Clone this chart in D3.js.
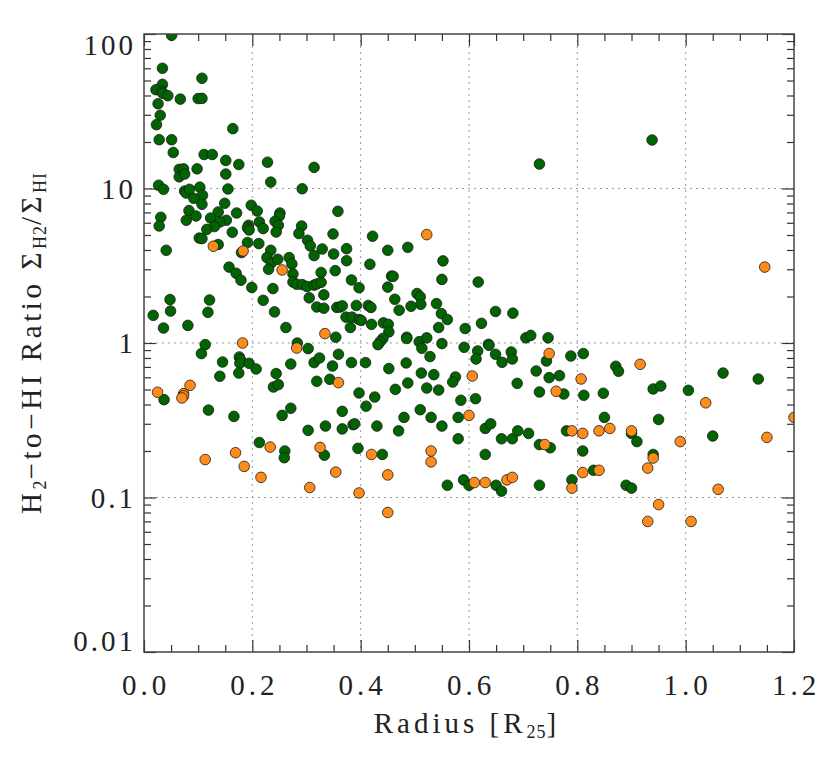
<!DOCTYPE html>
<html>
<head>
<meta charset="utf-8">
<script src="https://cdn.jsdelivr.net/npm/d3@7"></script>
<style>
  body { margin: 0; background: #fff; }
  text { font-family: 'Liberation Serif', serif; fill: #222; }
</style>
</head>
<body>
<div id="canvas"></div>
<script>
// green galaxies: radius [R25] and H2/HI ratio
const greenR = [0.051,0.034,0.107,0.034,0.022,0.033,0.035,0.044,0.067,0.100,0.107,0.026,0.030,0.023,0.164,0.028,0.051,0.054,0.111,0.126,
  0.151,0.175,0.228,0.314,0.065,0.073,0.098,0.151,0.065,0.075,0.234,0.027,0.036,0.103,0.155,0.292,0.075,0.078,0.084,0.108,
  0.092,0.149,0.107,0.198,0.209,0.083,0.137,0.171,0.358,0.251,0.250,0.031,0.096,0.123,0.078,0.152,0.140,0.242,0.213,0.028,
  0.193,0.291,0.248,0.130,0.116,0.163,0.191,0.194,0.220,0.244,0.286,0.302,0.307,0.314,0.349,0.329,0.350,0.374,0.374,0.102,
  0.107,0.137,0.041,0.180,0.191,0.212,0.234,0.227,0.235,0.230,0.247,0.268,0.273,0.157,0.170,0.179,0.199,0.238,0.275,0.275,
  0.282,0.292,0.301,0.314,0.319,0.327,0.327,0.353,0.383,0.397,0.305,0.332,0.319,0.332,0.356,0.362,0.366,0.392,0.373,0.384,
  0.381,0.397,0.220,0.241,0.262,0.048,0.049,0.017,0.036,0.121,0.118,0.081,0.354,0.113,0.106,0.283,0.303,0.176,0.178,0.177,
  0.145,0.194,0.207,0.175,0.140,0.244,0.239,0.248,0.271,0.314,0.324,0.359,0.348,0.383,0.319,0.343,0.397,0.037,0.119,0.166,
  0.255,0.271,0.366,0.303,0.335,0.366,0.386,0.389,0.395,0.213,0.260,0.259,0.333,0.730,0.938,0.422,0.450,0.487,0.417,0.552,
  0.550,0.617,0.450,0.457,0.460,0.463,0.504,0.510,0.511,0.493,0.471,0.540,0.549,0.560,0.414,0.419,0.401,0.420,0.442,0.451,
  0.452,0.441,0.436,0.432,0.485,0.485,0.508,0.513,0.522,0.544,0.550,0.528,0.593,0.623,0.649,0.681,0.591,0.616,0.613,0.636,
  0.637,0.649,0.661,0.678,0.680,0.705,0.714,0.746,0.743,0.788,0.811,0.409,0.452,0.484,0.512,0.535,0.575,0.570,0.426,0.464,
  0.487,0.522,0.544,0.689,0.724,0.748,0.767,0.730,0.775,0.812,0.585,0.612,0.871,0.876,0.848,0.940,0.954,1.005,1.069,1.134,
  0.41,0.43,0.44,0.47,0.48,0.51,0.53,0.55,0.56,0.58,0.58,0.59,0.60,0.63,0.63,0.64,0.65,0.66,0.66,0.68,
  0.69,0.71,0.73,0.73,0.75,0.78,0.79,0.81,0.83,0.85,0.89,0.90,0.91,0.90,0.94,0.95,1.05];
const greenRatio = [98,60,51.7,47.2,43.6,42.2,41.3,39.9,37.9,38.2,38.3,35.4,29.8,25.9,24.4,20.7,20.7,17.1,16.6,16.6,
  15.2,14.3,14.8,13.7,13.3,13.4,13.4,12.4,11.9,12.4,11.0,10.5,9.88,10.2,9.93,9.96,9.63,9.35,9.88,9.03,
  8.64,8.02,7.90,7.79,7.15,7.19,7.05,6.94,7.12,6.94,6.64,6.51,6.64,6.44,6.23,6.23,6.07,6.13,6.07,5.72,
  5.78,5.72,5.78,5.67,5.44,5.21,5.58,5.39,5.50,5.23,5.11,4.62,4.25,3.68,5.08,4.06,3.77,4.08,3.41,4.78,
  4.74,4.34,3.98,3.85,4.47,4.40,3.98,3.57,3.30,3.00,3.48,3.57,3.25,3.10,2.83,2.55,2.29,2.25,2.80,2.48,
  2.40,2.39,2.32,2.37,2.41,2.47,2.86,2.94,2.56,2.28,1.96,2.05,1.71,1.68,1.70,1.71,1.74,1.75,1.47,1.47,
  1.26,1.42,1.89,1.59,1.26,1.91,1.61,1.51,1.25,1.90,1.58,1.30,1.09,0.976,0.854,1.00,0.92,0.812,0.781,0.739,
  0.753,0.739,0.679,0.639,0.609,0.634,0.519,0.538,0.731,0.747,0.80,0.845,0.71,0.747,0.565,0.582,0.475,0.430,0.368,0.335,
  0.340,0.378,0.361,0.272,0.290,0.278,0.296,0.30,0.208,0.227,0.200,0.181,0.188,14.4,20.6,4.91,3.98,4.16,3.23,3.40,
  2.58,2.48,2.30,2.71,2.70,1.92,2.09,1.99,1.78,1.73,1.63,1.80,1.55,1.42,1.75,1.70,1.40,1.32,1.35,1.32,
  1.18,1.07,1.02,0.976,1.09,1.07,1.02,0.924,1.08,1.26,0.991,0.817,1.24,1.34,1.60,1.56,0.938,0.888,0.788,0.981,
  0.966,0.845,0.750,0.875,0.788,1.08,1.12,1.08,0.765,0.824,0.854,0.747,0.683,0.743,0.639,0.624,0.603,0.559,0.447,0.501,
  0.551,0.511,0.496,0.548,0.659,0.597,0.615,0.482,0.468,0.459,0.426,0.436,0.707,0.656,0.473,0.504,0.527,0.494,0.639,0.585,
  0.39,0.29,0.19,0.27,0.33,0.37,0.33,0.29,0.12,0.24,0.33,0.13,0.12,0.28,0.19,0.30,0.12,0.24,0.11,0.24,
  0.27,0.26,0.22,0.12,0.21,0.27,0.13,0.20,0.15,0.33,0.12,0.26,0.23,0.115,0.19,0.32,0.25];

// orange galaxies
const orangeR = [0.128,0.183,0.255,0.522,0.334,0.182,0.282,0.359,0.025,0.073,0.073,0.070,0.085,0.113,0.169,0.185,0.216,0.233,0.325,0.306,
  0.354,0.397,0.748,0.606,0.807,0.761,1.146,0.916,1.037,0.42,0.45,0.45,0.53,0.53,0.60,0.61,0.63,0.67,0.68,0.74,
  0.79,0.79,0.81,0.81,0.84,0.84,0.86,0.90,0.93,0.94,0.93,0.95,0.99,1.01,1.06,1.15,1.2];
const orangeRatio = [4.23,3.94,2.97,5.03,1.15,1.00,0.928,0.554,0.480,0.470,0.455,0.441,0.532,0.176,0.195,0.159,0.135,0.212,0.211,0.116,
  0.146,0.107,0.854,0.611,0.585,0.487,3.10,0.728,0.41,0.19,0.14,0.08,0.20,0.17,0.34,0.125,0.125,0.13,0.135,0.22,
  0.27,0.115,0.26,0.145,0.27,0.15,0.28,0.27,0.155,0.18,0.07,0.09,0.23,0.07,0.113,0.245,0.33];

const xTicks = [0.0, 0.2, 0.4, 0.6, 0.8, 1.0, 1.2];
const xTickLabels = ['0.0', '0.2', '0.4', '0.6', '0.8', '1.0', '1.2'];
const yTicks = [0.01, 0.1, 1, 10, 100];
const yTickLabels = ['0.01', '0.1', '1', '10', '100'];

const w = 830;
const h = 761;
const pLeft = 144, pRight = 794, pTop = 34, pBottom = 652;

const xScale = d3.scaleLinear().domain([0, 1.2]).range([pLeft, pRight]);
const yScale = d3.scaleLog().domain([0.01, 100]).range([pBottom, pTop]);

const svg = d3.select('#canvas')
  .append('svg')
  .attr('width', w)
  .attr('height', h);

svg.append('defs').append('clipPath')
  .attr('id', 'plotclip')
  .append('rect')
  .attr('x', pLeft).attr('y', pTop)
  .attr('width', pRight - pLeft).attr('height', pBottom - pTop);

// dotted grid
const grid = svg.append('g');
grid.selectAll('line.gx')
  .data(xTicks.slice(1, -1))
  .enter().append('line')
  .attr('x1', d => xScale(d)).attr('x2', d => xScale(d))
  .attr('y1', pTop).attr('y2', pBottom)
  .attr('stroke', '#999').attr('stroke-width', 1)
  .attr('stroke-dasharray', '2,4');
grid.selectAll('line.gy')
  .data(yTicks.slice(1, -1))
  .enter().append('line')
  .attr('x1', pLeft).attr('x2', pRight)
  .attr('y1', d => yScale(d)).attr('y2', d => yScale(d))
  .attr('stroke', '#999').attr('stroke-width', 1)
  .attr('stroke-dasharray', '2,4');

// minor tick values
const xMinor = d3.range(0, 1.2001, 0.05).filter(v => Math.abs(v / 0.2 - Math.round(v / 0.2)) > 0.01);
const yMinor = [];
[0.01, 0.1, 1, 10].forEach(dec => { for (let k = 2; k <= 9; k++) yMinor.push(dec * k); });

// axes with inward ticks, labels drawn separately
function tickAxis(axisFn, scale, values, size, transform) {
  svg.append('g')
    .attr('transform', transform)
    .call(axisFn(scale).tickValues(values).tickSize(size).tickFormat('').tickSizeOuter(0))
    .call(g => g.select('.domain').remove())
    .call(g => g.selectAll('line').attr('stroke', '#333').attr('stroke-width', 1.2));
}
tickAxis(d3.axisBottom, xScale, xTicks, -12, 'translate(0,' + pBottom + ')');
tickAxis(d3.axisBottom, xScale, xMinor, -7, 'translate(0,' + pBottom + ')');
tickAxis(d3.axisTop, xScale, xTicks, -12, 'translate(0,' + pTop + ')');
tickAxis(d3.axisTop, xScale, xMinor, -7, 'translate(0,' + pTop + ')');
tickAxis(d3.axisLeft, yScale, yTicks, -12, 'translate(' + pLeft + ',0)');
tickAxis(d3.axisLeft, yScale, yMinor, -7, 'translate(' + pLeft + ',0)');
tickAxis(d3.axisRight, yScale, yTicks, -12, 'translate(' + pRight + ',0)');
tickAxis(d3.axisRight, yScale, yMinor, -7, 'translate(' + pRight + ',0)');

// points
const green = greenR.map((r, i) => [r, greenRatio[i]]);
const orange = orangeR.map((r, i) => [r, orangeRatio[i]]);
const pts = svg.append('g').attr('clip-path', 'url(#plotclip)');
pts.selectAll('circle.g')
  .data(green)
  .enter().append('circle')
  .attr('cx', d => xScale(d[0]))
  .attr('cy', d => yScale(d[1]))
  .attr('r', 5.3)
  .attr('fill', '#006400')
  .attr('stroke', '#1a1a1a')
  .attr('stroke-width', 0.8);
pts.selectAll('circle.o')
  .data(orange)
  .enter().append('circle')
  .attr('cx', d => xScale(d[0]))
  .attr('cy', d => yScale(d[1]))
  .attr('r', 5.3)
  .attr('fill', '#ff8c1a')
  .attr('stroke', '#1a1a1a')
  .attr('stroke-width', 0.8);

// frame
svg.append('rect')
  .attr('x', pLeft).attr('y', pTop)
  .attr('width', pRight - pLeft).attr('height', pBottom - pTop)
  .attr('fill', 'none')
  .attr('stroke', '#444')
  .attr('stroke-width', 1.5);

// tick labels
svg.selectAll('text.xl')
  .data(xTicks)
  .enter().append('text')
  .attr('x', d => xScale(d) + 2)
  .attr('y', 695)
  .attr('text-anchor', 'middle')
  .style('font-size', '29px')
  .style('letter-spacing', '4px')
  .text((d, i) => xTickLabels[i]);

svg.selectAll('text.yl')
  .data(yTicks)
  .enter().append('text')
  .attr('x', pLeft - 8)
  .attr('y', d => {
    if (d === 100) return yScale(d) + 21;
    if (d === 0.01) return yScale(d) - 1;
    return yScale(d) + 10;
  })
  .attr('text-anchor', 'end')
  .style('font-size', '29px')
  .style('letter-spacing', '3px')
  .text((d, i) => yTickLabels[i]);

// axis titles
const xt = svg.append('text')
  .attr('x', (pLeft + pRight) / 2 - 2)
  .attr('y', 733)
  .attr('text-anchor', 'middle')
  .style('font-size', '29px')
  .style('letter-spacing', '4px');
xt.append('tspan').text('Radius [R');
xt.append('tspan').attr('dy', 5).style('font-size', '18px').style('letter-spacing', '1px').text('25');
xt.append('tspan').attr('dy', -5).text(']');

const yt = svg.append('text')
  .attr('transform', 'translate(41,' + ((pTop + pBottom) / 2) + ') rotate(-90)')
  .attr('text-anchor', 'middle')
  .style('font-size', '29px')
  .style('letter-spacing', '3.6px');
yt.append('tspan').text('H');
yt.append('tspan').attr('dy', 5).style('font-size', '18px').style('letter-spacing', '1px').text('2');
yt.append('tspan').attr('dy', -5).text('\u2212to\u2212HI Ratio \u03A3');
yt.append('tspan').attr('dy', 5).style('font-size', '18px').style('letter-spacing', '1px').text('H2');
yt.append('tspan').attr('dy', -5).text('/\u03A3');
yt.append('tspan').attr('dy', 5).style('font-size', '18px').style('letter-spacing', '1px').text('HI');
</script>
</body>
</html>
